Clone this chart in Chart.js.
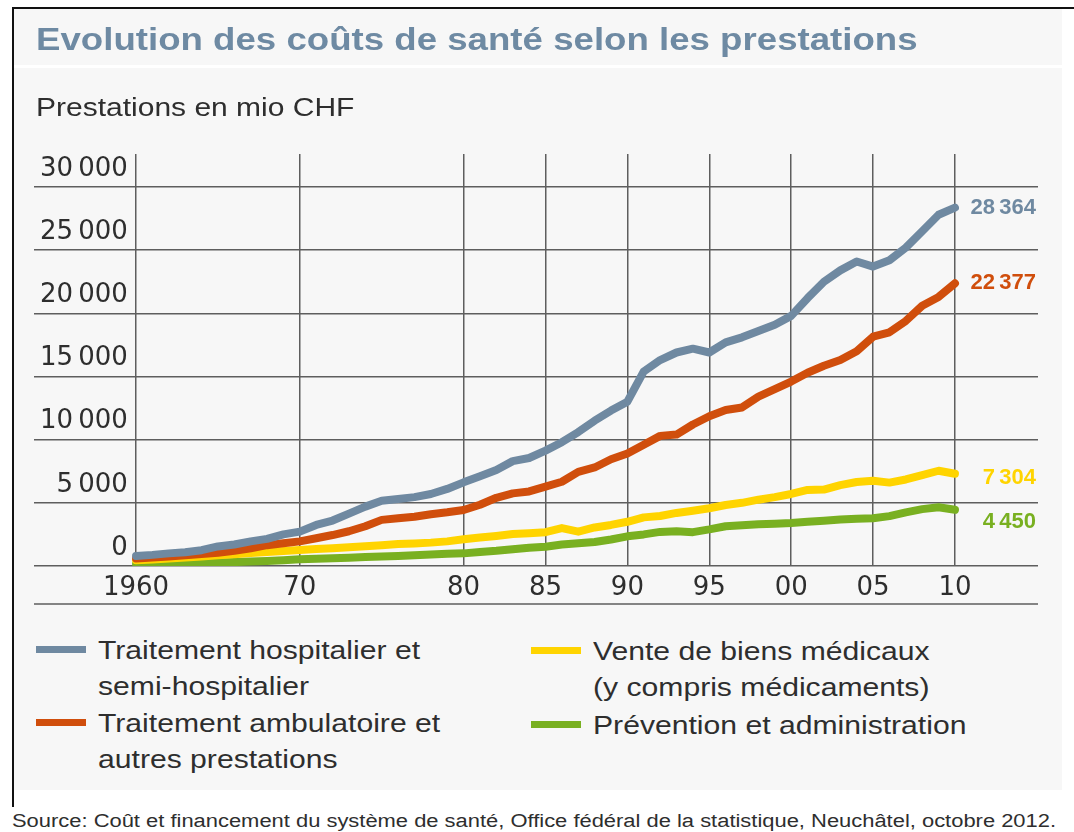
<!DOCTYPE html>
<html lang="fr">
<head>
  <meta charset="UTF-8">
  <title>Evolution des coûts de santé selon les prestations</title>
  <script src="https://cdn.jsdelivr.net/npm/chart.js"></script>
  <style>
    body { margin: 0; width: 1074px; height: 832px; overflow: hidden; background: #fff; font-family: 'Liberation Sans', Arial, sans-serif; color: #2e2e2e; position: relative; }
    .frame { position: absolute; left: 12px; top: 7px; right: 0; height: 798px; border-left: 2px solid #111; border-top: 2px solid #111; }
    .panel { position: absolute; left: 14px; top: 9px; width: 1048px; height: 781px; background: #f7f7f7; }
    .sep { position: absolute; left: 14px; top: 65px; width: 1048px; height: 3px; background: #fff; }
    .large { display: inline-block; transform-origin: 0 50%; white-space: nowrap; }
    .title { position: absolute; left: 36px; top: 21px; font-size: 32px; font-weight: bold; color: #6e8aa3; }
    .title .large { transform: scaleX(1.145); }
    .unit { position: absolute; left: 36px; top: 93px; font-size: 25px; }
    .unit .large { transform: scaleX(1.2); }
    #chart { position: absolute; left: 0; top: 0; }
    .legend { position: absolute; font-size: 25px; line-height: 36px; white-space: nowrap; }
    .legend .large { transform: scaleX(1.205); }
    .legend .sw { position: absolute; left: -62px; top: 14px; width: 50px; height: 7px; }
    .source { position: absolute; left: 12px; top: 811px; font-size: 18px; }
    .source .large { transform: scaleX(1.218); }
  </style>
</head>
<body>
  <div class="frame"></div>
  <div class="panel"></div>
  <div class="sep"></div>
  <canvas id="chart" width="1074" height="620"></canvas>
  <div class="title"><span class="large">Evolution des coûts de santé selon les prestations</span></div>
  <div class="unit"><span class="large">Prestations en mio CHF</span></div>

  <div class="legend" style="left:98px; top:632px;"><span class="sw" style="background:#6f89a1"></span><span class="large">Traitement hospitalier et<br>semi-hospitalier</span></div>
  <div class="legend" style="left:98px; top:705px;"><span class="sw" style="background:#d04e0c"></span><span class="large">Traitement ambulatoire et<br>autres prestations</span></div>
  <div class="legend" style="left:593px; top:633px;"><span class="sw" style="background:#ffd400"></span><span class="large">Vente de biens médicaux<br>(y compris médicaments)</span></div>
  <div class="legend" style="left:593px; top:707px;"><span class="sw" style="background:#79b021"></span><span class="large">Prévention et administration</span></div>

  <div class="source"><span class="large">Source: Coût et financement du système de santé, Office fédéral de la statistique, Neuchâtel, octobre 2012.</span></div>

  <script>
    const annees = [1960, 1961, 1962, 1963, 1964, 1965, 1966, 1967, 1968, 1969,
      1970, 1971, 1972, 1973, 1974, 1975, 1976, 1977, 1978, 1979,
      1980, 1981, 1982, 1983, 1984, 1985, 1986, 1987, 1988, 1989,
      1990, 1991, 1992, 1993, 1994, 1995, 1996, 1997, 1998, 1999,
      2000, 2001, 2002, 2003, 2004, 2005, 2006, 2007, 2008, 2009, 2010];

    const hospitalier = [790, 880, 1000, 1090, 1250, 1550, 1700, 1950, 2150, 2500,
      2720, 3250, 3600, 4150, 4700, 5170, 5300, 5450, 5700, 6100,
      6620, 7100, 7600, 8300, 8550, 9130, 9800, 10600, 11500, 12300,
      13010, 15400, 16300, 16900, 17200, 16900, 17700, 18100, 18600, 19100,
      19800, 21200, 22500, 23400, 24100, 23700, 24200, 25200, 26500, 27800, 28364];

    const ambulatoire = [600, 680, 760, 850, 950, 1050, 1200, 1400, 1650, 1800,
      1950, 2200, 2450, 2750, 3150, 3650, 3780, 3900, 4100, 4250,
      4430, 4850, 5400, 5750, 5900, 6280, 6670, 7450, 7800, 8450,
      8900, 9600, 10300, 10400, 11200, 11850, 12350, 12550, 13400, 14000,
      14600, 15300, 15850, 16300, 17000, 18150, 18500, 19400, 20600, 21300, 22377];

    const biensMedicaux = [450, 520, 600, 680, 760, 850, 930, 1020, 1100, 1180,
      1270, 1340, 1410, 1480, 1560, 1640, 1740, 1790, 1850, 1950,
      2110, 2250, 2380, 2530, 2600, 2680, 3000, 2720, 3050, 3250,
      3500, 3850, 3960, 4200, 4380, 4570, 4830, 5000, 5250, 5450,
      5700, 6020, 6050, 6400, 6650, 6750, 6600, 6850, 7200, 7540, 7304];

    const prevention = [160, 180, 200, 220, 240, 270, 310, 350, 400, 460,
      530, 570, 610, 660, 710, 760, 800, 860, 910, 960,
      1000, 1100, 1200, 1330, 1450, 1530, 1700, 1800, 1900, 2100,
      2350, 2500, 2700, 2750, 2680, 2900, 3150, 3220, 3300, 3350,
      3400, 3500, 3580, 3680, 3740, 3780, 3950, 4250, 4500, 4650, 4450];

    const ticksX = [1960, 1970, 1980, 1985, 1990, 1995, 2000, 2005, 2010];
    const ticksY = [0, 5000, 10000, 15000, 20000, 25000, 30000];

    const series = [
      { label: 'Traitement hospitalier et semi-hospitalier', data: hospitalier, color: '#6f89a1', dy: 0 },
      { label: 'Traitement ambulatoire et autres prestations', data: ambulatoire, color: '#d04e0c', dy: 0 },
      { label: 'Vente de biens médicaux (y compris médicaments)', data: biensMedicaux, color: '#ffd400', dy: 4 },
      { label: 'Prévention et administration', data: prevention, color: '#79b021', dy: 12 }
    ];

    function fmt(v) {
      return String(v).replace(/\B(?=(\d{3})+(?!\d))/g, '\u2009');
    }

    const grille = '#5e5e5e';

    const finDeLigne = {
      id: 'finDeLigne',
      afterDatasetsDraw(chart) {
        const ctx = chart.ctx;
        const area = chart.chartArea;
        ctx.save();
        ctx.font = 'bold 22px "Liberation Sans", Arial, sans-serif';
        ctx.textAlign = 'right';
        ctx.textBaseline = 'middle';
        series.forEach((s, i) => {
          const meta = chart.getDatasetMeta(i);
          const pt = meta.data[meta.data.length - 1];
          ctx.fillStyle = s.color;
          ctx.fillText(fmt(s.data[s.data.length - 1]), area.right - 2, pt.y + s.dy);
        });
        // trait sous les années
        const x = chart.scales.x;
        ctx.strokeStyle = grille;
        ctx.lineWidth = 1.5;
        ctx.beginPath();
        ctx.moveTo(area.left, x.bottom);
        ctx.lineTo(area.right, x.bottom);
        ctx.stroke();
        ctx.restore();
      }
    };

    new Chart(document.getElementById('chart'), {
      type: 'line',
      data: {
        datasets: series.map(s => ({
          label: s.label,
          data: annees.map((a, i) => ({ x: a, y: s.data[i] })),
          borderColor: s.color,
          backgroundColor: s.color,
          borderWidth: 8,
          borderCapStyle: 'round',
          borderJoinStyle: 'round',
          pointRadius: 0,
          tension: 0,
          fill: false
        }))
      },
      options: {
        responsive: false,
        animation: false,
        devicePixelRatio: 1,
        layout: { padding: { left: 34, right: 36, top: 154, bottom: 16 } },
        plugins: { legend: { display: false }, tooltip: { enabled: false } },
        scales: {
          x: {
            type: 'linear',
            min: 1953.77,
            max: 2015.07,
            afterBuildTicks: sc => { sc.ticks = ticksX.map(v => ({ value: v })); },
            afterFit: sc => { sc.height = 38; },
            grid: { color: grille, lineWidth: 1.5, drawTicks: false },
            border: { display: false },
            ticks: {
              padding: 7,
              color: '#2e2e2e',
              font: { family: '"DejaVu Sans", sans-serif', size: 26 },
              callback: v => v === 1960 ? '1960' : String(v % 100).padStart(2, '0')
            }
          },
          y: {
            min: 0,
            max: 32612,
            afterBuildTicks: sc => { sc.ticks = ticksY.map(v => ({ value: v })); },
            afterFit: sc => { sc.width = 0; },
            grid: { color: grille, lineWidth: 1.5, drawTicks: false },
            border: { display: false },
            ticks: {
              mirror: true,
              crossAlign: 'far',
              padding: 6,
              labelOffset: -18,
              color: '#2e2e2e',
              font: { family: '"DejaVu Sans", sans-serif', size: 26 },
              callback: v => fmt(v)
            }
          }
        }
      },
      plugins: [finDeLigne]
    });
  </script>
</body>
</html>
